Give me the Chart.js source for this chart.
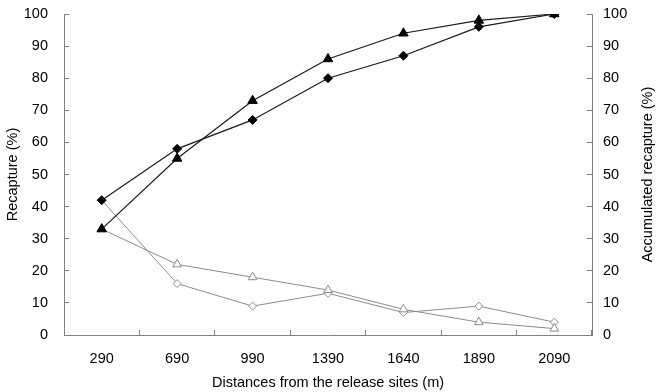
<!DOCTYPE html>
<html><head><meta charset="utf-8">
<script src="https://cdn.jsdelivr.net/npm/chart.js@4.4.1/dist/chart.umd.min.js"></script>
<style>html,body{margin:0;padding:0;background:#fff}#wrap{width:657px;height:392px}</style>
</head><body><div id="wrap"><canvas id="c" width="657" height="392"></canvas></div>
<script>
const distances = ['290','690','990','1390','1640','1890','2090'];
const accDiamond = [42, 58, 67, 80, 87, 96, 100];
const accTriangle = [33, 55, 73, 86, 94, 98, 100];
const recDiamond = [42, 16, 9, 13, 7, 9, 4];
const recTriangle = [33, 22, 18, 14, 8, 4, 2];
const yTicks = [0,10,20,30,40,50,60,70,80,90,100];
const rightTitle = 'Accumulated recapture (%)';

const FONT = 'Liberation Sans, Arial, sans-serif';
const FS = 14.5;
const axisCol = '#808080';
const gray = '#8c8c8c';

const rightTitlePlugin = {
  id: 'rightTitle',
  afterDraw(chart) {
    const s = chart.scales.y2;
    const ctx = chart.ctx;
    ctx.save();
    ctx.font = FS + 'px ' + FONT;
    ctx.fillStyle = '#000';
    ctx.textAlign = 'center';
    ctx.textBaseline = 'middle';
    ctx.translate(s.right - 9, (s.top + s.bottom) / 2);
    ctx.rotate(-Math.PI / 2);
    ctx.fillText(rightTitle, 0, 0);
    ctx.restore();
  }
};

function fixY(w) {
  return s => { s.width = w; s.paddingTop = 0; s.paddingBottom = 0; };
}

new Chart(document.getElementById('c'), {
  type: 'line',
  data: {
    labels: distances,
    datasets: [
      {data: accTriangle, yAxisID: 'y2', borderColor: '#1a1a1a', borderWidth: 1.2, pointStyle: 'triangle', pointRadius: 5.5, pointBackgroundColor: '#000', pointBorderColor: '#000', pointBorderWidth: 1, tension: 0},
      {data: accDiamond, yAxisID: 'y2', borderColor: '#1a1a1a', borderWidth: 1.2, pointStyle: 'rectRot', pointRadius: 4.5, pointBackgroundColor: '#000', pointBorderColor: '#000', pointBorderWidth: 1, tension: 0},
      {data: recTriangle, yAxisID: 'y', borderColor: gray, borderWidth: 1, pointStyle: 'triangle', pointRadius: 5, pointBackgroundColor: '#fff', pointBorderColor: gray, pointBorderWidth: 1, tension: 0},
      {data: recDiamond, yAxisID: 'y', borderColor: gray, borderWidth: 1, pointStyle: 'rectRot', pointRadius: 4, pointBackgroundColor: '#fff', pointBorderColor: gray, pointBorderWidth: 1, tension: 0}
    ]
  },
  options: {
    responsive: false,
    animation: false,
    layout: {autoPadding: false, padding: {top: 14, left: 0, right: 0, bottom: 0}},
    plugins: {legend: {display: false}, tooltip: {enabled: false}},
    scales: {
      x: {
        type: 'category', offset: true,
        grid: {display: true, drawOnChartArea: false, drawTicks: true, tickLength: -5, color: axisCol, offset: true},
        border: {display: true, color: axisCol, width: 1},
        ticks: {color: '#000', font: {family: FONT, size: FS}, padding: 20, maxRotation: 0},
        title: {display: true, text: 'Distances from the release sites (m)', color: '#000', font: {family: FONT, size: FS}, padding: {top: 2, bottom: 0}},
        afterFit: s => { s.height = 57; s.paddingLeft = 0; s.paddingRight = 0; }
      },
      y: {
        position: 'left', min: 0, max: 100,
        afterBuildTicks: s => { s.ticks = yTicks.map(v => ({value: v})); },
        grid: {display: true, drawOnChartArea: false, drawTicks: true, tickLength: -5, color: axisCol},
        border: {display: true, color: axisCol, width: 1},
        ticks: {color: '#000', font: {family: FONT, size: FS}, padding: 21},
        title: {display: true, text: 'Recapture (%)', color: '#000', font: {family: FONT, size: FS}, padding: {top: 4, bottom: 0}},
        afterFit: fixY(64)
      },
      y2: {
        position: 'right', min: 0, max: 100,
        afterBuildTicks: s => { s.ticks = yTicks.map(v => ({value: v})); },
        grid: {display: true, drawOnChartArea: false, drawTicks: true, tickLength: -5, color: axisCol},
        border: {display: true, color: axisCol, width: 1},
        ticks: {color: '#000', font: {family: FONT, size: FS}, padding: 16},
        title: {display: false},
        afterFit: fixY(65)
      }
    }
  },
  plugins: [rightTitlePlugin]
});
</script>
</body></html>
